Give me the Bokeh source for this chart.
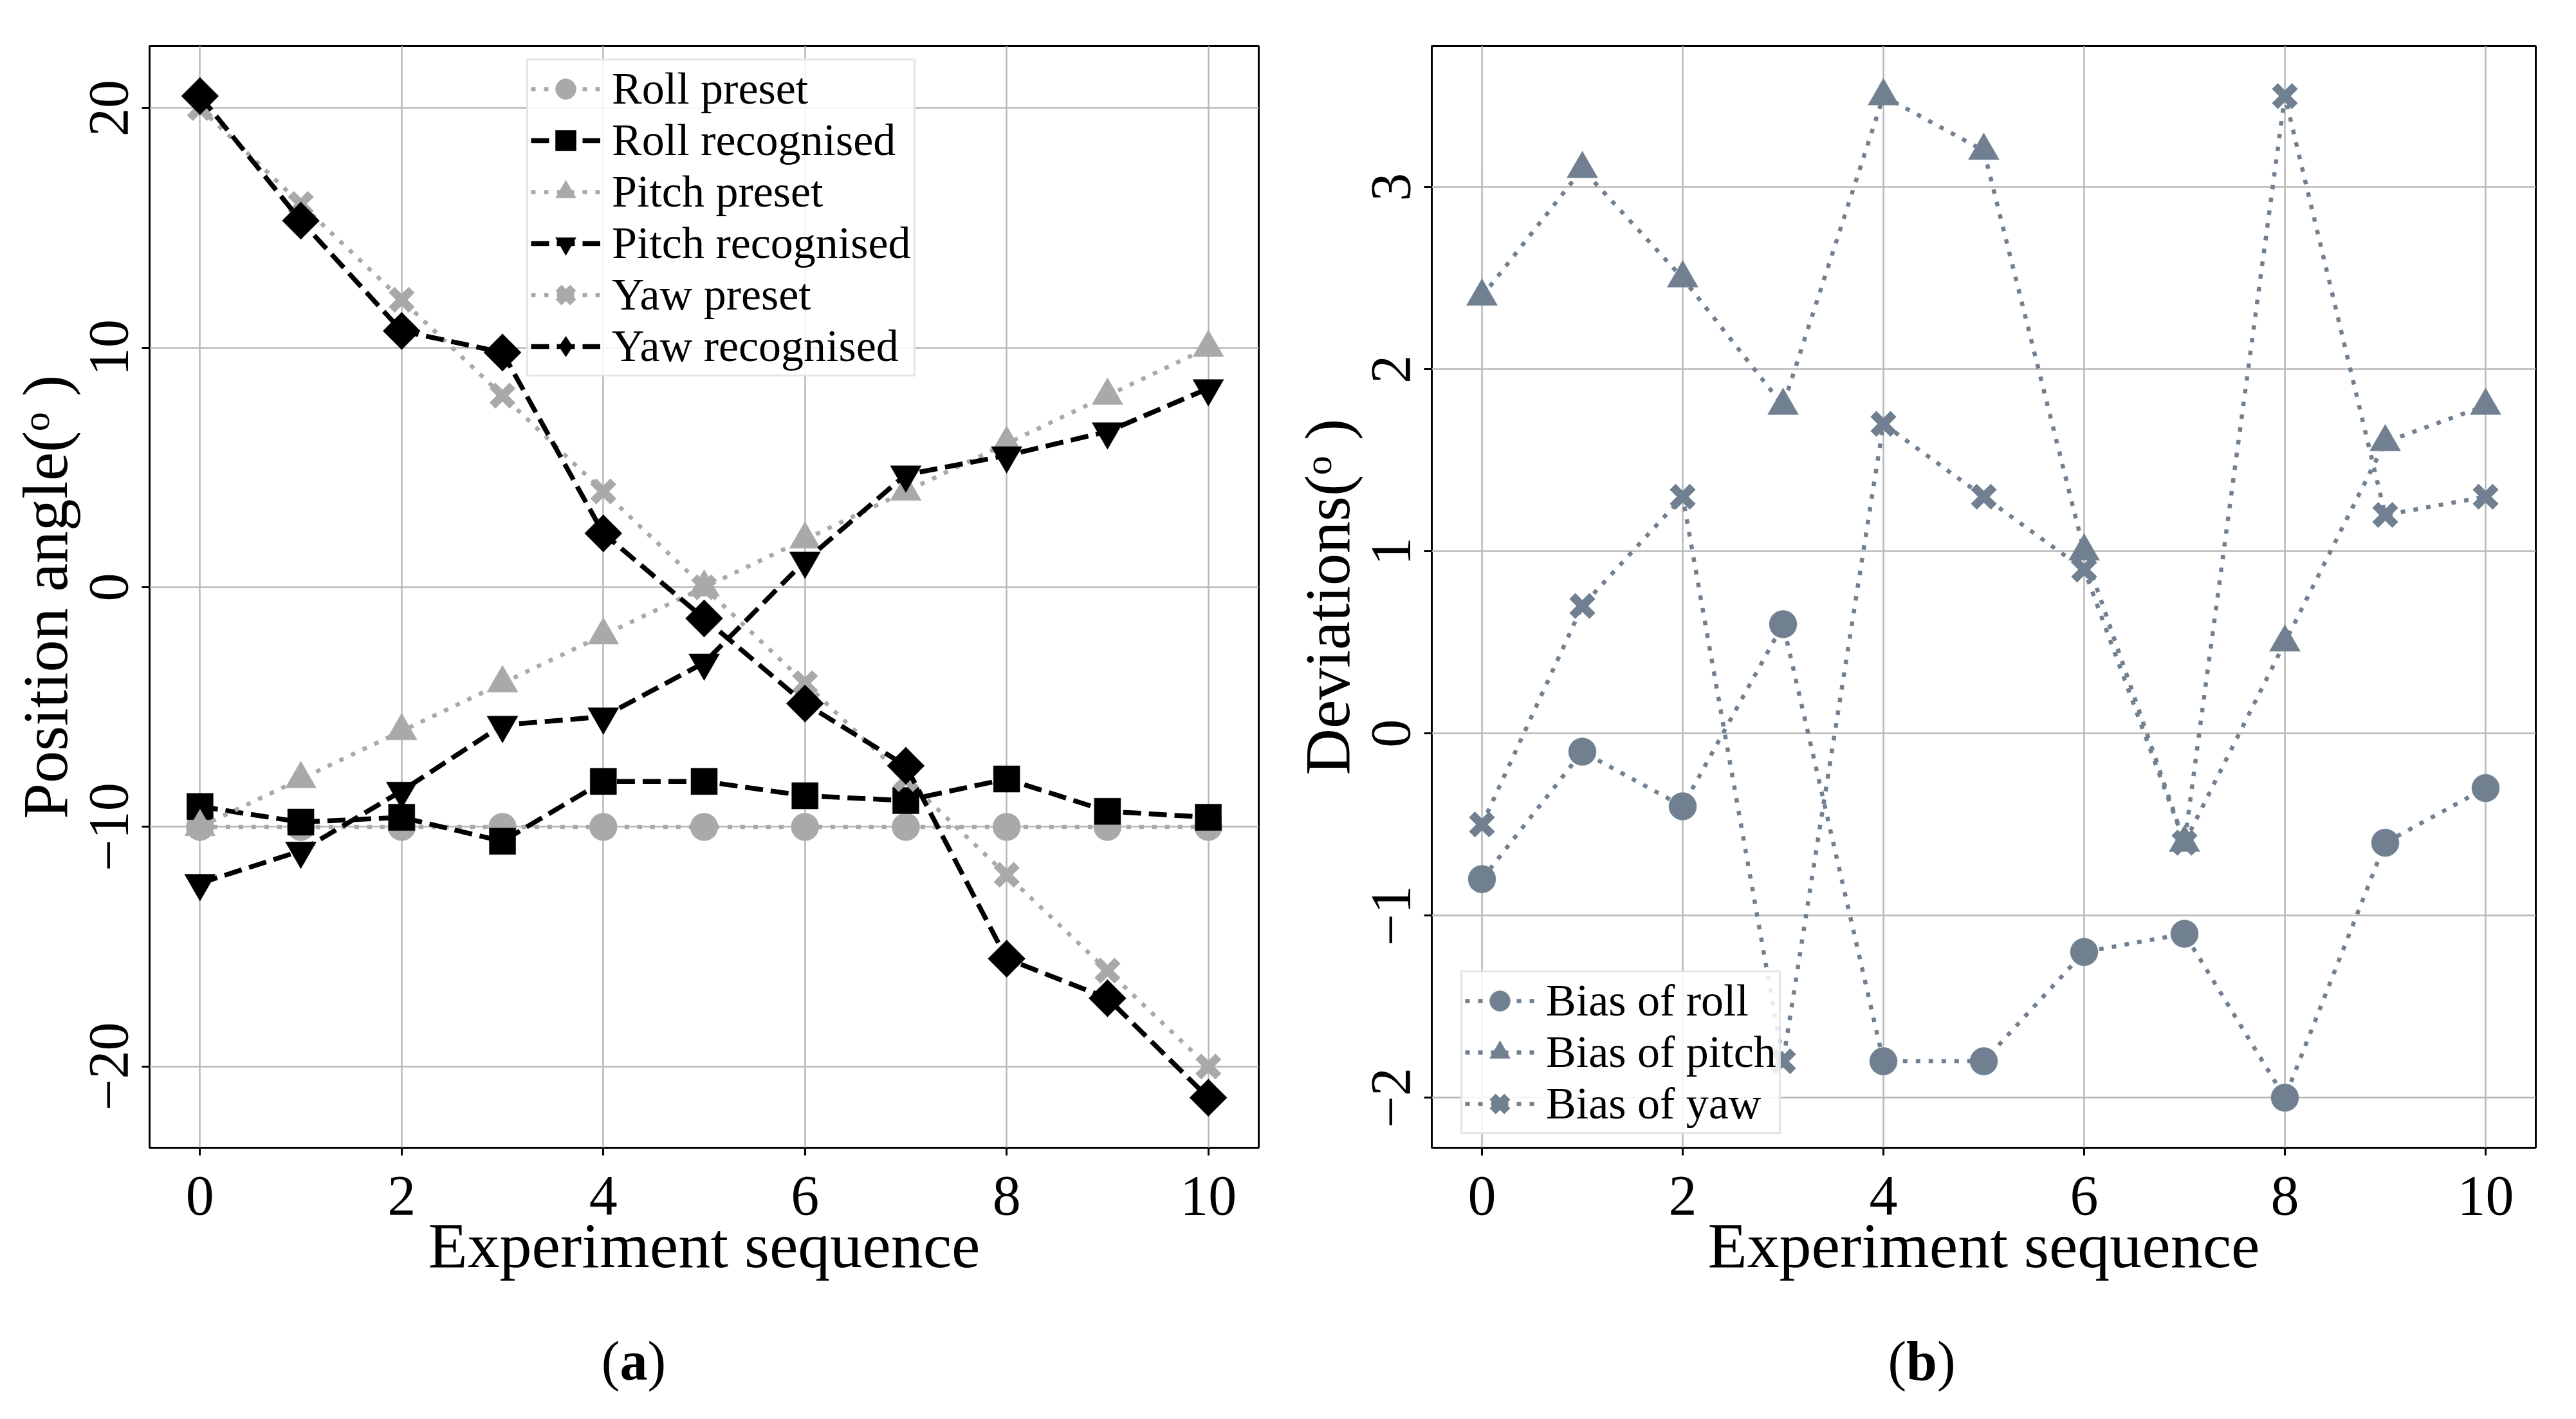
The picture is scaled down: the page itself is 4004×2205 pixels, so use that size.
from bokeh.plotting import figure
from bokeh.layouts import row, column
from bokeh.models import Range1d, FixedTicker, Legend, LegendItem, Div
from bokeh.embed import file_html
from bokeh.resources import INLINE
import math

# ---------------- data ----------------
seq = list(range(11))
roll_preset = [-10, -10, -10, -10, -10, -10, -10, -10, -10, -10, -10]
roll_recog = [-9.15, -9.8, -9.6, -10.6, -8.1, -8.1, -8.7, -8.9, -8.0, -9.35, -9.6]
pitch_preset = [-10, -8, -6, -4, -2, 0, 2, 4, 6, 8, 10]
pitch_recog = [-12.35, -11.0, -8.5, -5.75, -5.4, -3.15, 1.1, 4.7, 5.5, 6.5, 8.3]
yaw_preset = [20, 16, 12, 8, 4, 0, -4, -8, -12, -16, -20]
yaw_recog = [20.5, 15.3, 10.7, 9.8, 2.25, -1.3, -4.85, -7.45, -15.5, -17.15, -21.3]

bias_roll = [-0.8, -0.1, -0.4, 0.6, -1.8, -1.8, -1.2, -1.1, -2.0, -0.6, -0.3]
bias_pitch = [2.4, 3.1, 2.5, 1.8, 3.5, 3.2, 1.0, -0.6, 0.5, 1.6, 1.8]
bias_yaw = [-0.5, 0.7, 1.3, -1.8, 1.7, 1.3, 0.9, -0.6, 3.5, 1.2, 1.3]

x_ticks = [0, 2, 4, 6, 8, 10]
y_ticks_a = [-20, -10, 0, 10, 20]
y_ticks_b = [-2, -1, 0, 1, 2, 3]

FONT = "Liberation Serif"
GREY = "#a9a9a9"
SLATE = "#708090"
DOT = "7 13"
DASH = "28 12"


def auto_range(values, margin=0.05):
    lo, hi = min(values), max(values)
    span = hi - lo
    return Range1d(lo - margin * span, hi + margin * span)


def style(p, yticks, xlabel, ylabel):
    p.xaxis.ticker = FixedTicker(ticks=x_ticks)
    p.yaxis.ticker = FixedTicker(ticks=yticks)
    p.xgrid.ticker = FixedTicker(ticks=x_ticks)
    p.ygrid.ticker = FixedTicker(ticks=yticks)
    for g in (p.xgrid, p.ygrid):
        g.grid_line_color = "#b8b8b8"
        g.grid_line_width = 2.5
    p.outline_line_color = "black"
    p.outline_line_width = 3
    p.outline_line_alpha = 1
    for ax in (p.xaxis, p.yaxis):
        ax.axis_line_color = None
        ax.major_tick_line_color = "black"
        ax.major_tick_line_width = 3
        ax.major_tick_out = 12
        ax.major_tick_in = 0
        ax.minor_tick_line_color = None
        ax.major_label_text_font = FONT
        ax.major_label_text_font_size = "88px"
        ax.major_label_text_color = "black"
        ax.axis_label_text_font = FONT
        ax.axis_label_text_font_size = "100px"
        ax.axis_label_text_font_style = "normal"
        ax.axis_label_text_color = "black"
    p.xaxis.axis_label = xlabel
    p.yaxis.axis_label = ylabel
    p.yaxis.major_label_orientation = "vertical"
    p.xaxis.major_label_standoff = 33
    p.yaxis.major_label_standoff = 22
    p.xaxis.axis_label_standoff = -10
    p.yaxis.axis_label_standoff = 12
    p.background_fill_color = "white"
    p.border_fill_color = "white"


def legend_style(lg):
    lg.label_text_font = FONT
    lg.label_text_font_size = "70px"
    lg.label_text_color = "black"
    lg.label_height = 80
    lg.glyph_height = 80
    lg.glyph_width = 108
    lg.spacing = 0
    lg.padding = 4
    lg.margin = 0
    lg.label_standoff = 18
    lg.border_line_color = "#cccccc"
    lg.border_line_width = 3
    lg.background_fill_alpha = 0.85


def marker_line_width(mk):
    return 13 if mk["marker"] == "x" else 0.5


# ---------------- panel (a) ----------------
pa = figure(width=2000, height=2050,
            x_range=auto_range(seq),
            y_range=auto_range(roll_recog + pitch_recog + yaw_recog + yaw_preset + pitch_preset),
            output_backend="svg", toolbar_location=None,
            min_border_left=232, min_border_right=44,
            min_border_top=63, min_border_bottom=267)
style(pa, y_ticks_a, "Experiment sequence", "Position angle(ᵒ )")

series_a = [
    ("Roll preset", roll_preset, GREY, DOT, 6.5, dict(marker="circle", size=43)),
    ("Roll recognised", roll_recog, "black", DASH, 7.5, dict(marker="square", size=41)),
    ("Pitch preset", pitch_preset, GREY, DOT, 6.5, dict(marker="triangle", size=48)),
    ("Pitch recognised", pitch_recog, "black", DASH, 7.5, dict(marker="inverted_triangle", size=48)),
    ("Yaw preset", yaw_preset, GREY, DOT, 6.5, dict(marker="x", size=44)),
    ("Yaw recognised", yaw_recog, "black", DASH, 7.5, dict(marker="diamond", size=58)),
]
items_a = []
for name, ys, col, dash, lw, mk in series_a:
    ln = pa.line(seq, ys, line_color=col, line_dash=dash, line_width=lw)
    sc = pa.scatter(seq, ys, fill_color=col, line_color=col, line_width=marker_line_width(mk), **mk)
    if mk["marker"] == "diamond":
        # equal-sided diamond drawn over the (narrower) legend diamond
        pa.scatter(seq, ys, marker="square", angle=math.pi / 4, size=41,
                   fill_color=col, line_color=col, line_width=0.5)
    items_a.append(LegendItem(label=name, renderers=[ln, sc]))

leg_a = Legend(items=items_a, location=(586, 1198))
legend_style(leg_a)
pa.add_layout(leg_a, "center")

# ---------------- panel (b) ----------------
pb = figure(width=1988, height=2050,
            x_range=auto_range(seq),
            y_range=auto_range(bias_roll + bias_pitch + bias_yaw),
            output_backend="svg", toolbar_location=None,
            min_border_left=225, min_border_right=47,
            min_border_top=71, min_border_bottom=261)
style(pb, y_ticks_b, "Experiment sequence", "Deviations(ᵒ )")

series_b = [
    ("Bias of roll", bias_roll, dict(marker="circle", size=43)),
    ("Bias of pitch", bias_pitch, dict(marker="triangle", size=48)),
    ("Bias of yaw", bias_yaw, dict(marker="x", size=44)),
]
items_b = []
for name, ys, mk in series_b:
    ln = pb.line(seq, ys, line_color=SLATE, line_dash=DOT, line_width=6.5)
    sc = pb.scatter(seq, ys, fill_color=SLATE, line_color=SLATE, line_width=marker_line_width(mk), **mk)
    items_b.append(LegendItem(label=name, renderers=[ln, sc]))

leg_b = Legend(items=items_b, location=(45, 21))
legend_style(leg_b)
pb.add_layout(leg_b, "center")

# ---------------- captions (a) / (b) ----------------
cap_style = {"font-family": "'Liberation Serif', serif", "font-size": "86px",
             "line-height": "86px", "text-align": "center", "color": "black",
             "padding-top": "17px", "width": "100%"}
cap_a = Div(text="(<b>a</b>)", width=1960, height=139, styles=cap_style)
cap_b = Div(text="(<b>b</b>)", width=2024, height=139, styles=cap_style)

layout = column(row(pa, pb), row(cap_a, cap_b))
open("out.html", "w").write(file_html(layout, INLINE))
